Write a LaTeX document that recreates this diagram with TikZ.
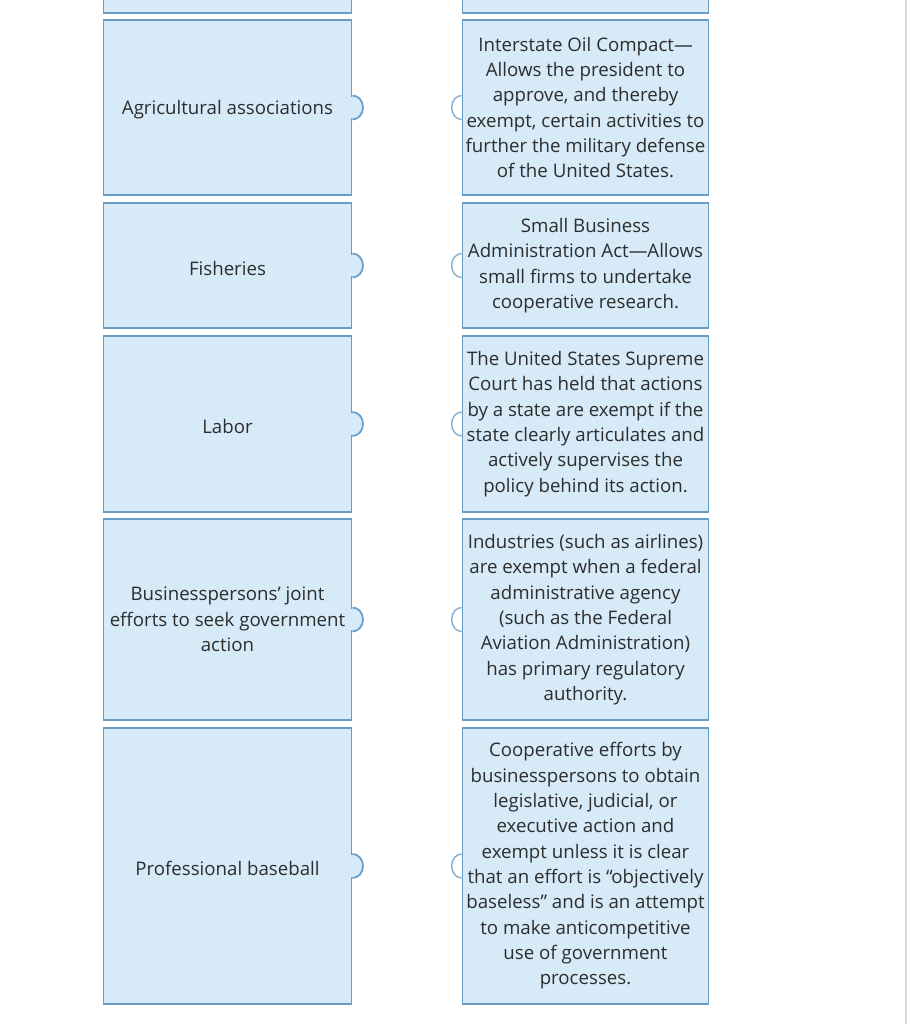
\documentclass[tikz,border=0pt]{standalone}
\usepackage{fontspec}
\setmainfont{Open Sans}
\usepackage{tikz}
\usetikzlibrary{positioning,calc}
\definecolor{TileBlue}{RGB}{214,234,248}
\definecolor{TileEdge}{RGB}{104,158,198}
\definecolor{InkGray}{RGB}{45,45,45}
\definecolor{RuleGray}{RGB}{218,218,218}
\tikzset{
  tile/.style={rectangle,draw=TileEdge,fill=TileBlue,line width=1.3pt,inner sep=1pt,
    align=center,text=InkGray,font=\fontsize{14}{19}\selectfont,
    execute at begin node={\rule{0pt}{14.5pt}}},
  lbox/.style={tile,minimum width=186pt},
  rbox/.style={tile,minimum width=184.5pt},
  knob/.style={draw=TileEdge,fill=TileBlue,line width=1.3pt},
  socket/.style={draw=TileEdge!80,line width=1.1pt},
}

\begin{document}
\begin{tikzpicture}[x=0.75pt,y=-0.75pt]
    \useasboundingbox (0,0) rectangle (908,1024);
    \draw[RuleGray,line width=1.8pt] (906,0) -- (906,1024);
    % cut-off row at the top
    \node[lbox,minimum height=22pt] (topl) at (227.5,-2) {};
    \node[rbox,minimum height=22pt] (topr) at (585.5,-2) {};
    % left column
    \node[lbox,minimum height=131.5pt] (agri) at (227.5,107.5) {Agricultural associations};
    \node[lbox,minimum height=94pt] (fish) at (227.5,265.5) {Fisheries};
    \node[lbox,minimum height=132pt] (labor) at (227.5,424) {Labor};
    \node[lbox,minimum height=151pt] (joint) at (227.5,619.5)
      {Businesspersons’ joint\\efforts to seek government\\action};
    \node[lbox,minimum height=207pt] (baseball) at (227.5,866) {Professional baseball};
    % right column
    \node[rbox,minimum height=131.5pt] (oil) at (585.5,107.5)
      {Interstate Oil Compact—\\Allows the president to\\approve, and thereby\\exempt, certain activities to\\further the military defense\\of the United States.};
    \node[rbox,minimum height=94pt] (sba) at (585.5,265.5)
      {Small Business\\Administration Act—Allows\\small firms to undertake\\cooperative research.};
    \node[rbox,minimum height=132pt] (court) at (585.5,424)
      {The United States Supreme\\Court has held that actions\\by a state are exempt if the\\state clearly articulates and\\actively supervises the\\policy behind its action.};
    \node[rbox,minimum height=151pt] (airline) at (585.5,619.5)
      {Industries (such as airlines)\\are exempt when a federal\\administrative agency\\(such as the Federal\\Aviation Administration)\\has primary regulatory\\authority.};
    \node[rbox,minimum height=207pt] (coop) at (585.5,866)
      {Cooperative efforts by\\businesspersons to obtain\\legislative, judicial, or\\executive action and\\exempt unless it is clear\\that an effort is “objectively\\baseless” and is an attempt\\to make anticompetitive\\use of government\\processes.};
    % knobs and sockets
    \foreach \n in {agri,fish,labor,joint,baseball}{
      \draw[knob] ([yshift=9pt]\n.east) arc[start angle=90,end angle=-90,x radius=8pt,y radius=9pt];
      \draw[TileBlue,line width=1.6pt] ([yshift=8pt]\n.east) -- ([yshift=-8pt]\n.east);
    }
    \foreach \n in {oil,sba,court,airline,coop}
      \draw[socket] ([yshift=9pt]\n.west) arc[start angle=90,end angle=270,x radius=7.5pt,y radius=9pt];
\end{tikzpicture}
\end{document}
